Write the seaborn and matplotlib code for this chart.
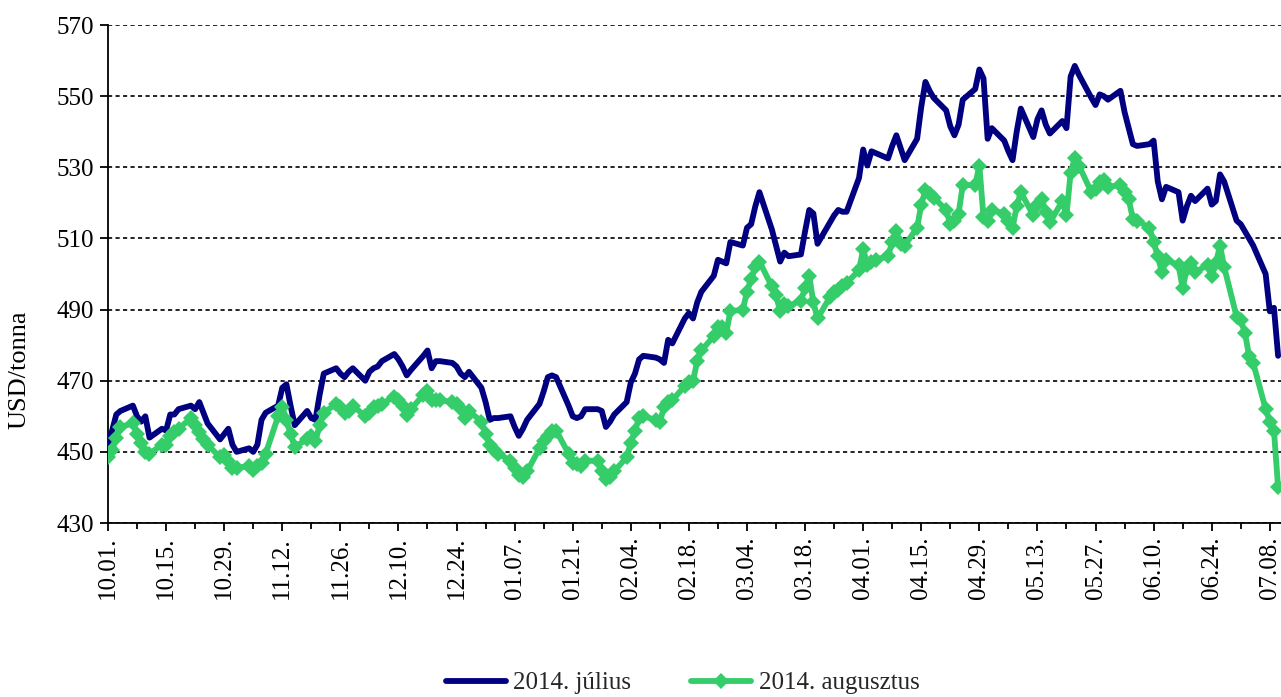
import matplotlib
matplotlib.use("Agg")
import matplotlib.pyplot as plt
import matplotlib.dates as mdates
import matplotlib.ticker as mticker
import seaborn as sns
import pandas as pd

# trading days, 2013.10.01 - 2014.07.10
dates = pd.bdate_range("2013-10-01", "2014-07-10")

# 2014. július (USD/tonna), one row per week
julius = [
    452, 456, 460.5, 461.5,
    463, 460, 458.5, 460, 454,
    456.5, 456, 460.5, 460.5, 462,
    463, 462, 464, 461, 458,
    453.5, 455, 456.5, 452, 450,
    451, 450, 452, 459, 461,
    463, 468, 469, 463, 457.5,
    461.5, 459.5, 459, 466, 472,
    473.5, 472, 471, 472.5, 473.5,
    470, 472.5, 473.5, 474, 475.5,
    477.5, 476, 474, 471.5, 473,
    477, 478.5, 473.5, 475.5, 475.5,
    475, 474, 472, 471, 472.5,
    468, 464, 459, 459.5, 459.5,
    460, 457, 454.5, 456.5, 459,
    463.5, 467, 471, 471.5, 471,
    463, 460, 459.5, 460, 462,
    462, 461.5, 457, 458.5, 460.5,
    464, 469.5, 472, 476, 477,
    476.5, 476, 475, 481.5, 480.5,
    487.5, 489, 487.5, 492, 495,
    499.5, 504, 503.5, 503, 509,
    508, 513, 514, 519, 523,
    512.5, 508, 503.5, 506, 505,
    505.5, 512, 518, 517, 508.5,
    514.5, 516.5, 518, 517.5, 517.5,
    527, 535, 530.5, 534.5, 534,
    532.5, 536, 539, 535.5, 532,
    538, 547, 554, 551.5, 549.5,
    546, 541.5, 539, 542, 549,
    552, 557.5, 555, 538, 541,
    537.5, 534.5, 532, 540, 546.5,
    538.5, 543.5, 546, 542, 539.5,
    543, 541, 555.5, 558.5, 556,
    549.5, 547.5, 550.5, 550, 549,
    551.5, 545.5, 541, 536.5, 536,
    536.5, 537.5, 526, 521, 524.5,
    523, 515, 519, 522, 520.5,
    524, 519.5, 520.5, 528, 526,
    515, 514, 512, 510, 508,
    500, 489.5, 490.5, 477,
]

# 2014. augusztus (USD/tonna)
augusztus = [
    448.5, 450.5, 454, 457,
    458, 455, 452.5, 450, 449.5,
    452, 452, 454.5, 455.5, 456.5,
    459.5, 457.5, 455.5, 453.5, 452,
    448.5, 449, 447.5, 445.5, 445.5,
    446, 445, 446, 447, 449.5,
    460, 462.5, 459, 455, 451.5,
    453.5, 454.5, 453, 457.5, 461,
    463.5, 462.5, 461, 461.5, 463,
    460, 461, 462.5, 463, 463.5,
    465.5, 464.5, 463, 460.5, 462,
    466, 467, 464.5, 464.5, 464.5,
    464, 463.5, 462, 459.5, 461.5,
    458.5, 455, 452, 450.5, 449.5,
    447.5, 445.5, 443.5, 443, 444.5,
    451, 453, 454.5, 456, 456,
    449.5, 447, 446.5, 446, 447.5,
    447.5, 444.5, 442.5, 443, 444.5,
    448.5, 452.5, 456, 459.5, 460,
    459, 458.5, 462.5, 464, 464.5,
    468.5, 469.5, 470, 475.5, 478.5,
    482.5, 485, 485, 483.5, 489.5,
    490, 495, 498.5, 502, 503.5,
    496.5, 494, 489.5, 491.5, 491,
    492.5, 496, 499.5, 492, 487.5,
    493.5, 495, 495.5, 496.5, 497.5,
    501, 507, 502.5, 503.5, 504,
    505, 509, 512, 508.5, 508,
    513, 519.5, 523.5, 522.5, 521.5,
    518, 514, 515, 517, 525,
    525, 530.5, 516, 515, 518,
    517, 515, 513, 519, 523,
    516.5, 519.5, 521, 517.5, 514.5,
    520.5, 516.5, 528.5, 532.5, 530.5,
    523, 524, 526, 526.5, 524.5,
    525, 523, 521, 515.5, 515,
    513, 509, 505, 500.5, 504,
    502.5, 496, 501.5, 503, 500.5,
    502.5, 499.5, 503, 508, 502,
    488, 487, 483.5, 477, 475,
    462, 458.5, 456, 440,
]

y_ticks = list(range(430, 571, 20))

sns.set_style("white")
plt.rcParams["font.family"] = ["Liberation Serif", "DejaVu Serif"]

fig = plt.figure(figsize=(12.81, 6.97), dpi=100)
ax = fig.add_axes([108 / 1281, 1 - 523 / 697, 1 - 108 / 1281, (523 - 25) / 697])

sns.lineplot(x=dates, y=julius, ax=ax, color="#000080", linewidth=4.2,
             label="2014. július", zorder=3)
sns.lineplot(x=dates, y=augusztus, ax=ax, color="#35CC6A", linewidth=4.2,
             marker="D", markersize=8.5, markeredgewidth=0,
             label="2014. augusztus", zorder=4)

start = pd.Timestamp("2013-10-01")
ax.set_xlim(start, start + pd.Timedelta(days=282.7))
ax.set_ylim(430, 570)
ax.yaxis.set_major_locator(mticker.FixedLocator(y_ticks))

major = pd.date_range("2013-10-01", "2014-07-08", freq="14D")
minor = pd.date_range("2013-10-08", "2014-07-15", freq="14D")
ax.xaxis.set_major_locator(mticker.FixedLocator(mdates.date2num(major)))
ax.xaxis.set_minor_locator(mticker.FixedLocator(mdates.date2num(minor)))
ax.xaxis.set_major_formatter(mdates.DateFormatter("%m.%d."))
plt.setp(ax.get_xticklabels(), rotation=90)

ax.grid(axis="y", color="black", linestyle=(0, (2.5, 2)), linewidth=1.2)
ax.grid(axis="x", visible=False)
for s in ["top", "right"]:
    ax.spines[s].set_visible(False)
for s in ["left", "bottom"]:
    ax.spines[s].set_color("black")
    ax.spines[s].set_linewidth(1.3)

ax.tick_params(axis="both", which="major", direction="out", length=6,
               width=1.3, color="black", labelcolor="black", labelsize=18,
               pad=4, bottom=True, left=True)
ax.tick_params(axis="x", which="minor", direction="out", length=4,
               width=1.3, color="black", bottom=True)

ax.set_xlabel("")
ax.set_ylabel("USD/tonna", fontsize=19, color="black")
ax.yaxis.set_label_coords(-0.066, 0.307)

ax.get_legend().remove()
handles, labels = ax.get_legend_handles_labels()
fig.legend(handles, labels, loc="center", bbox_to_anchor=(0.533, 0.02),
           ncol=2, frameon=False, fontsize=18, handlelength=2.4,
           handletextpad=0.3, columnspacing=2.4)

fig.savefig("out.png", dpi=100)
